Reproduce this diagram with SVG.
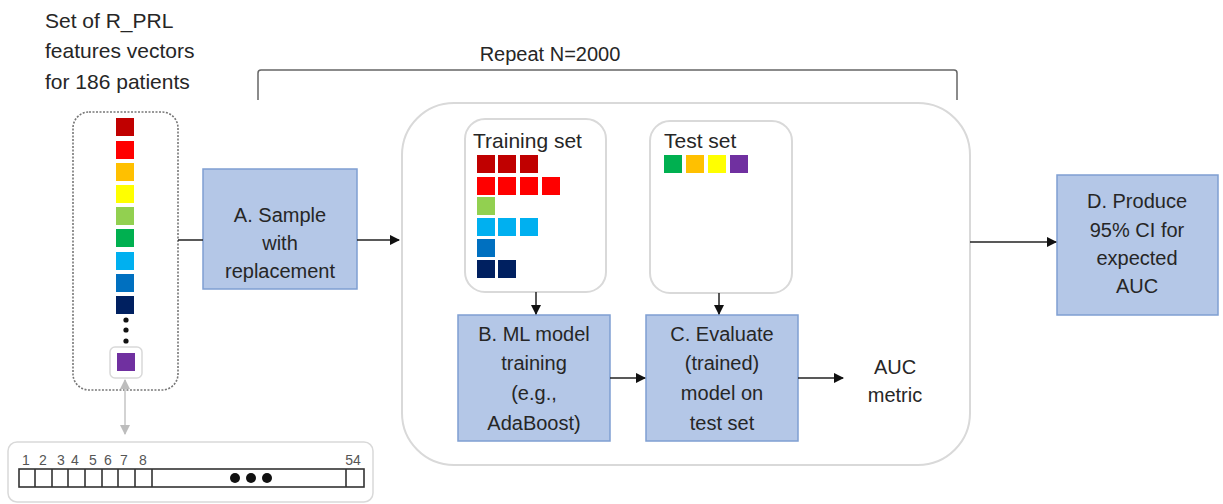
<svg xmlns="http://www.w3.org/2000/svg" width="1223" height="504" viewBox="0 0 1223 504">
  <style>
    text { font-family: "Liberation Sans", Arial, sans-serif; fill: #262626; }
    .lbl { font-size: 20px; text-anchor: middle; }
    .title { font-size: 21px; }
    .step { fill: #b4c7e7; stroke: #7f9fd2; stroke-width: 1.5; }
    .panel { fill: #fff; stroke: #d9d9d9; stroke-width: 2; }
    .wire { fill: none; stroke: #222; stroke-width: 1.5; }
    .soft { fill: none; stroke: #c4c4c4; stroke-width: 1.5; }
    .num { font-size: 14px; fill: #555; text-anchor: middle; }
    .cell { fill: #fff; stroke: #333; stroke-width: 1.6; }
    .dr { fill: #c00000; } .rd { fill: #ff0000; } .or { fill: #ffc000; } .ye { fill: #ffff00; }
    .lg { fill: #92d050; } .gr { fill: #00b050; } .lb { fill: #00b0f0; } .bl { fill: #0070c0; }
    .nv { fill: #002060; } .pu { fill: #7030a0; }
  </style>
  <defs>
    <marker id="arrow" viewBox="0 0 10 10" refX="9" refY="5" markerWidth="7" markerHeight="7" orient="auto">
      <path d="M0,0 L10,5 L0,10 z" fill="#111"/>
    </marker>
    <marker id="arrowSoft" viewBox="0 0 10 10" refX="9" refY="5" markerWidth="7" markerHeight="7" orient="auto-start-reverse">
      <path d="M0,0 L10,5 L0,10 z" fill="#bdbdbd"/>
    </marker>
  </defs>

  <rect width="1223" height="504" fill="#fff"/>

  <!-- heading above the patient vectors -->
  <g id="title">
    <text class="title" x="45" y="28">Set of R_PRL</text>
    <text class="title" x="45" y="58">features  vectors</text>
    <text class="title" x="45" y="89">for 186 patients</text>
  </g>

  <!-- repeat bracket -->
  <g id="repeat">
    <text x="550" y="61" style="font-size:20px;text-anchor:middle">Repeat N=2000</text>
    <path d="M258,100 V73 Q258,70 261,70 H954 Q957,70 957,73 V100" fill="none" stroke="#666" stroke-width="1.5"/>
  </g>

  <!-- column of patient feature vectors -->
  <g id="patients">
    <rect x="73" y="112" width="105" height="278" rx="16" fill="#fff" stroke="#777" stroke-width="1.6" stroke-dasharray="2 1.5"/>
    <rect class="dr" x="116" y="118" width="18" height="18"/>
    <rect class="rd" x="116" y="141" width="18" height="18"/>
    <rect class="or" x="116" y="163" width="18" height="18"/>
    <rect class="ye" x="116" y="185" width="18" height="18"/>
    <rect class="lg" x="116" y="207" width="18" height="18"/>
    <rect class="gr" x="116" y="229" width="18" height="18"/>
    <rect class="lb" x="116" y="252" width="18" height="18"/>
    <rect class="bl" x="116" y="274" width="18" height="18"/>
    <rect class="nv" x="116" y="296" width="18" height="18"/>
    <circle cx="126" cy="320" r="2.6" fill="#111"/>
    <circle cx="126" cy="330" r="2.6" fill="#111"/>
    <circle cx="126" cy="341" r="2.6" fill="#111"/>
    <rect x="110" y="347" width="32" height="31" rx="5" fill="#fff" stroke="#d9d9d9" stroke-width="1.5"/>
    <rect class="pu" x="117" y="353" width="18" height="18"/>
  </g>

  <!-- single 54-element feature vector -->
  <g id="vector">
    <rect x="8" y="442" width="365" height="60" rx="9" fill="#fff" stroke="#d9d9d9" stroke-width="1.5"/>
    <text class="num" x="26" y="465">1</text>
    <text class="num" x="43" y="465">2</text>
    <text class="num" x="61" y="465">3</text>
    <text class="num" x="75" y="465">4</text>
    <text class="num" x="93" y="465">5</text>
    <text class="num" x="108" y="465">6</text>
    <text class="num" x="124" y="465">7</text>
    <text class="num" x="143" y="465">8</text>
    <text class="num" x="353" y="465">54</text>
    <rect class="cell" x="19" y="469" width="345" height="18"/>
    <path d="M35,469 V487 M52,469 V487 M68,469 V487 M85,469 V487 M102,469 V487 M118,469 V487 M135,469 V487 M152,469 V487 M346,469 V487" stroke="#333" stroke-width="1.6"/>
    <circle cx="235" cy="478" r="5" fill="#111"/>
    <circle cx="251" cy="478" r="5" fill="#111"/>
    <circle cx="267" cy="478" r="5" fill="#111"/>
  </g>

  <!-- step A -->
  <g id="stepA">
    <rect class="step" x="203" y="169" width="154" height="120"/>
    <text class="lbl" x="280" y="222">A. Sample</text>
    <text class="lbl" x="280" y="250">with</text>
    <text class="lbl" x="280" y="278">replacement</text>
  </g>

  <!-- repeated resampling loop -->
  <g id="loop">
    <rect class="panel" x="402" y="103" width="568" height="362" rx="52"/>
  </g>

  <g id="training">
    <rect class="panel" x="465" y="119" width="141" height="173" rx="20" stroke-width="1.5"/>
    <text x="473" y="148" style="font-size:21px">Training set</text>
    <rect class="dr" x="477" y="155" width="18" height="18"/>
    <rect class="dr" x="498" y="155" width="18" height="18"/>
    <rect class="dr" x="520" y="155" width="18" height="18"/>
    <rect class="rd" x="477" y="177" width="18" height="18"/>
    <rect class="rd" x="498" y="177" width="18" height="18"/>
    <rect class="rd" x="520" y="177" width="18" height="18"/>
    <rect class="rd" x="542" y="177" width="18" height="18"/>
    <rect class="lg" x="477" y="197" width="18" height="18"/>
    <rect class="lb" x="477" y="218" width="18" height="18"/>
    <rect class="lb" x="498" y="218" width="18" height="18"/>
    <rect class="lb" x="520" y="218" width="18" height="18"/>
    <rect class="bl" x="477" y="239" width="18" height="18"/>
    <rect class="nv" x="477" y="260" width="18" height="18"/>
    <rect class="nv" x="498" y="260" width="18" height="18"/>
  </g>

  <g id="test">
    <rect class="panel" x="650" y="121" width="142" height="172" rx="20" stroke-width="1.5"/>
    <text x="664" y="148" style="font-size:21px">Test set</text>
    <rect class="gr" x="664" y="155" width="18" height="18"/>
    <rect class="or" x="686" y="155" width="18" height="18"/>
    <rect class="ye" x="708" y="155" width="18" height="18"/>
    <rect class="pu" x="730" y="155" width="18" height="18"/>
  </g>

  <!-- step B -->
  <g id="stepB">
    <rect class="step" x="458" y="315" width="152" height="126"/>
    <text class="lbl" x="534" y="341">B. ML model</text>
    <text class="lbl" x="534" y="370">training</text>
    <text class="lbl" x="534" y="400">(e.g.,</text>
    <text class="lbl" x="534" y="430">AdaBoost)</text>
  </g>

  <!-- step C -->
  <g id="stepC">
    <rect class="step" x="646" y="315" width="152" height="126"/>
    <text class="lbl" x="722" y="341">C. Evaluate</text>
    <text class="lbl" x="722" y="370">(trained)</text>
    <text class="lbl" x="722" y="400">model on</text>
    <text class="lbl" x="722" y="430">test set</text>
  </g>

  <g id="auc">
    <text class="lbl" x="895" y="374">AUC</text>
    <text class="lbl" x="895" y="402">metric</text>
  </g>

  <!-- step D -->
  <g id="stepD">
    <rect class="step" x="1057" y="175" width="161" height="140"/>
    <text class="lbl" x="1137" y="208">D. Produce</text>
    <text class="lbl" x="1137" y="237">95% CI for</text>
    <text class="lbl" x="1137" y="265">expected</text>
    <text class="lbl" x="1137" y="293">AUC</text>
  </g>

  <!-- connectors -->
  <g id="connectors">
    <path class="wire" d="M178,240 H203"/>
    <path class="wire" d="M357,240 H399" marker-end="url(#arrow)"/>
    <path class="wire" d="M536,292 V314" marker-end="url(#arrow)"/>
    <path class="wire" d="M719,293 V314" marker-end="url(#arrow)"/>
    <path class="wire" d="M610,378 H645" marker-end="url(#arrow)"/>
    <path class="wire" d="M798,378 H843" marker-end="url(#arrow)"/>
    <path class="wire" d="M970,242 H1056" marker-end="url(#arrow)"/>
    <path class="soft" d="M125,380 V434" marker-start="url(#arrowSoft)" marker-end="url(#arrowSoft)"/>
  </g>
</svg>
